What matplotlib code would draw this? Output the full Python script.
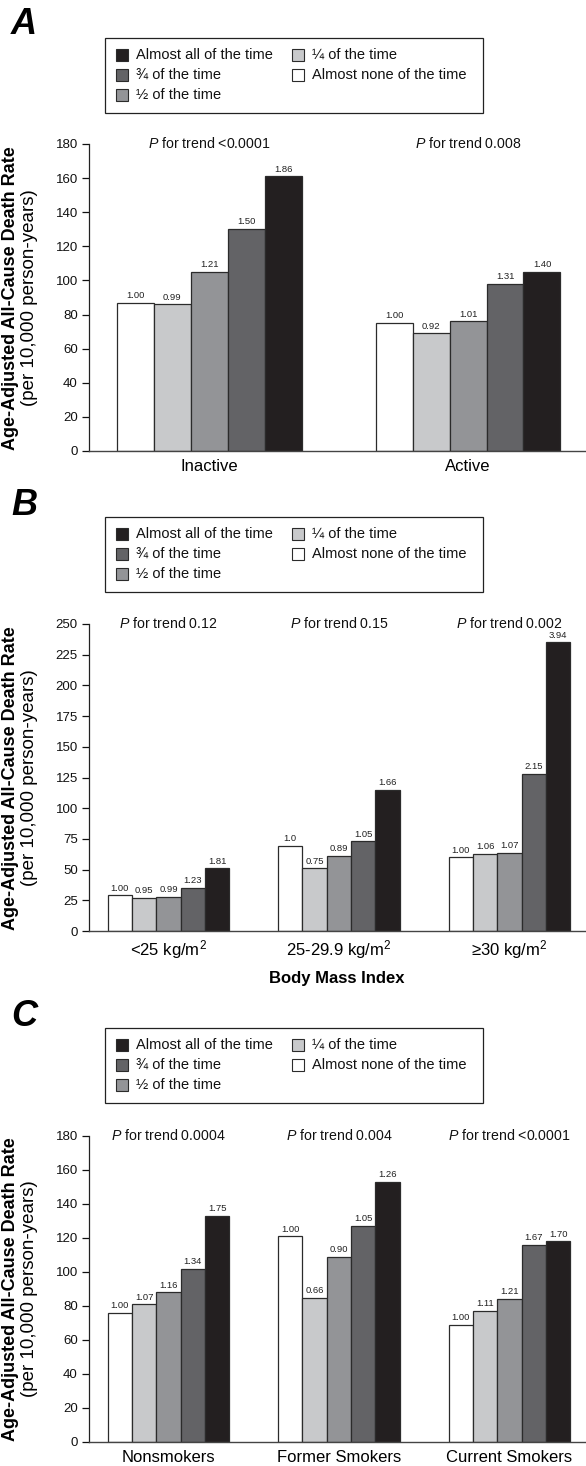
import matplotlib
matplotlib.use("Agg")
import matplotlib.pyplot as plt
from matplotlib.patches import Rectangle

plt.rcParams['font.family'] = ['Liberation Sans', 'DejaVu Sans']
plt.rcParams['mathtext.fontset'] = 'custom'
plt.rcParams['mathtext.rm'] = 'Liberation Sans'
plt.rcParams['mathtext.it'] = 'Liberation Sans:italic'
plt.rcParams['mathtext.bf'] = 'Liberation Sans:bold'

# ---------------- data ----------------
series_names = ["Almost none of the time", "\u00bc of the time", "\u00bd of the time",
                "\u00be of the time", "Almost all of the time"]
series_colors = ["#ffffff", "#c8c9cb", "#939497", "#636366", "#231f20"]

a_groups = ["Inactive", "Active"]
a_values = [[87, 86, 105, 130, 161],
            [75, 69, 76, 98, 105]]
a_labels = [["1.00", "0.99", "1.21", "1.50", "1.86"],
            ["1.00", "0.92", "1.01", "1.31", "1.40"]]
a_ptrend = ["<0.0001", "0.008"]

b_groups = ["<25 kg/m$^{2}$", "25-29.9 kg/m$^{2}$", "\u226530 kg/m$^{2}$"]
b_values = [[29, 27, 28, 35, 51],
            [69, 51, 61, 73, 115],
            [60, 63, 63.5, 128, 235]]
b_labels = [["1.00", "0.95", "0.99", "1.23", "1.81"],
            ["1.0", "0.75", "0.89", "1.05", "1.66"],
            ["1.00", "1.06", "1.07", "2.15", "3.94"]]
b_ptrend = ["0.12", "0.15", "0.002"]

c_groups = ["Nonsmokers", "Former Smokers", "Current Smokers"]
c_values = [[76, 81, 88, 102, 133],
            [121, 85, 109, 127, 153],
            [69, 77, 84, 116, 118]]
c_labels = [["1.00", "1.07", "1.16", "1.34", "1.75"],
            ["1.00", "0.66", "0.90", "1.05", "1.26"],
            ["1.00", "1.11", "1.21", "1.67", "1.70"]]
c_ptrend = ["0.0004", "0.004", "<0.0001"]

a_yticks = list(range(0, 181, 20))
b_yticks = list(range(0, 251, 25))
c_yticks = list(range(0, 181, 20))

# ---------------- layout ----------------
W, H = 586, 1466
fig = plt.figure(figsize=(W / 100, H / 100), dpi=100)


def fx(px):
    return px / W


def fy(py):
    return 1 - py / H


def axes_px(left, right, top, bottom):
    return fig.add_axes([left / W, 1 - bottom / H, (right - left) / W, (bottom - top) / H])


def draw_panel(ax, groups, values, labels, ptrend, yticks, xleft, xright):
    n = len(series_names)
    bw = 1.0 / 7.0
    for s in range(n):
        xs = [g + (s - (n - 1) / 2) * bw for g in range(len(groups))]
        hs = [values[g][s] for g in range(len(groups))]
        ax.bar(xs, hs, width=bw, color=series_colors[s], edgecolor="#2b2b2b",
               linewidth=0.9, zorder=2)
        for g in range(len(groups)):
            ax.annotate(labels[g][s], (xs[g], hs[g]), xytext=(0, 2),
                        textcoords="offset points", ha="center", va="bottom",
                        fontsize=6.8, color="#222222")
    ymax = yticks[-1]
    for g in range(len(groups)):
        ax.text(g, ymax, "$P$ for trend " + ptrend[g], ha="center", va="center",
                fontsize=10.2, color="#111111")
    ax.set_xlim(xleft, xright)
    ax.set_ylim(0, ymax)
    ax.set_yticks(yticks)
    ax.set_xticks(range(len(groups)))
    ax.set_xticklabels(groups, fontsize=12)
    ax.tick_params(axis="x", length=0, pad=6)
    ax.tick_params(axis="y", direction="out", length=5, width=0.9, labelsize=9.5, pad=3,
                   colors="#111111")
    for sp in ["top", "right"]:
        ax.spines[sp].set_visible(False)
    ax.spines["left"].set_linewidth(0.9)
    ax.spines["bottom"].set_linewidth(1.0)
    ax.spines["left"].set_color("#222222")
    ax.spines["bottom"].set_color("#444444")


def legend_box(top_px):
    left, right, height = 105, 483, 75
    fig.patches.append(Rectangle((fx(left), fy(top_px + height)), fx(right) - fx(left),
                                 height / H, transform=fig.transFigure, fill=False,
                                 edgecolor="#222222", linewidth=0.9))
    order = [4, 3, 2, 1, 0]
    slots = [(0, 0), (0, 1), (0, 2), (1, 0), (1, 1)]
    col_x = [116, 292]
    sq = 12
    for idx, (col, row) in zip(order, slots):
        cy = top_px + 17 + row * 20
        x0 = col_x[col]
        fig.patches.append(Rectangle((fx(x0), fy(cy + sq / 2)), sq / W, sq / H,
                                     transform=fig.transFigure,
                                     facecolor=series_colors[idx], edgecolor="#2b2b2b",
                                     linewidth=0.8))
        fig.text(fx(x0 + sq + 8), fy(cy), series_names[idx], ha="left", va="center",
                 fontsize=10.5, color="#111111")


def ylabel(center_y_px):
    fig.text(fx(11), fy(center_y_px), "Age-Adjusted All-Cause Death Rate",
             rotation=90, ha="center", va="center", fontsize=13, fontweight="bold")
    fig.text(fx(30), fy(center_y_px), "(per 10,000 person-years)",
             rotation=90, ha="center", va="center", fontsize=13.5)


def letter(ch, top_px):
    fig.text(fx(11), fy(top_px), ch, ha="left", va="top", fontsize=26,
             fontweight="bold", fontstyle="italic")


# Panel A
axA = axes_px(89, 585, 144, 451)
draw_panel(axA, a_groups, a_values, a_labels, a_ptrend, a_yticks, -0.465, 1.452)
legend_box(38)
ylabel(298)
letter("A", 7)

# Panel B
axB = axes_px(89, 585, 624, 931)
draw_panel(axB, b_groups, b_values, b_labels, b_ptrend, b_yticks, -0.466, 2.443)
axB.tick_params(axis="x", pad=5)
axB.set_xlabel("Body Mass Index", fontsize=12, fontweight="bold", labelpad=7)
legend_box(517)
ylabel(778)
letter("B", 488)

# Panel C
axC = axes_px(89, 585, 1136, 1442)
draw_panel(axC, c_groups, c_values, c_labels, c_ptrend, c_yticks, -0.466, 2.443)
legend_box(1028)
ylabel(1289)
letter("C", 999)

fig.savefig("out.png", dpi=100)
